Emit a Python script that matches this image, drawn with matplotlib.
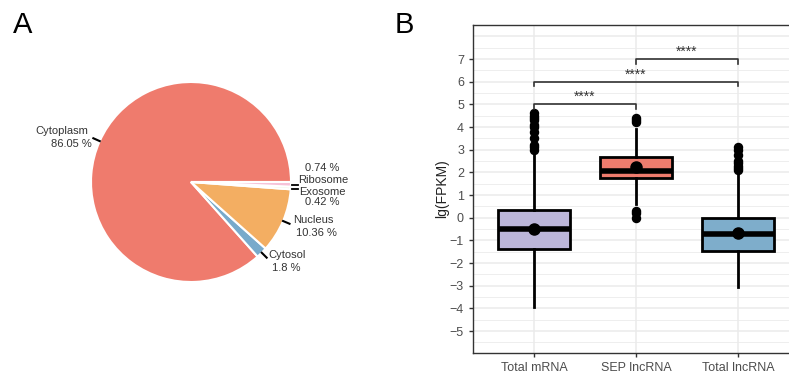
import numpy as np
import matplotlib
matplotlib.use("Agg")
import matplotlib.pyplot as plt

plt.rcParams['font.family'] = ['Liberation Sans', 'DejaVu Sans']

# ---- panel A data ----
pie_labels = ['Cytoplasm', 'Cytosol', 'Nucleus', 'Exosome', 'Ribosome']
pie_values = [86.05, 1.8, 10.36, 0.42, 0.74]
pie_colors = ['#EF7B6D', '#78AACB', '#F3AE62', '#DDEBC8', '#F6C2D8']

# label placement (data coords of the pie axes, radius 1)
label_pos = {
    'Cytoplasm': ((-1.29, 0.51), (-1.20, 0.38)),
    'Cytosol': ((0.96, -0.73), (0.95, -0.86)),
    'Nucleus': ((1.22, -0.38), (1.25, -0.51)),
    'Exosome': ((1.31, -0.10), (1.31, -0.20)),
    'Ribosome': ((1.32, 0.02), (1.31, 0.14)),
}

# ---- panel B data ----
groups = ['Total mRNA', 'SEP lncRNA', 'Total lncRNA']
box_colors = ['#BCB6D9', '#EF7C6E', '#7EADCB']
q1 = [-1.39, 1.74, -1.45]
med = [-0.48, 2.05, -0.72]
q3 = [0.36, 2.66, 0.0]
whislo = [-3.92, 0.62, -3.04]
whishi = [2.95, 3.92, 2.05]
means = [-0.52, 2.25, -0.68]
fliers = [
    [3.0, 3.1, 3.2, 3.5, 3.8, 4.0, 4.1, 4.3, 4.4, 4.5, 4.6],
    [4.2, 4.3, 4.4, 0.3, 0.2, 0.0],
    [2.1, 2.2, 2.3, 2.4, 2.5, 2.75, 3.0, 3.1],
]
# significance brackets: (from group, to group, height)
brackets = [(1, 2, 5.0), (1, 3, 6.0), (2, 3, 7.0)]

W, H = 789, 379
fig = plt.figure(figsize=(W / 100, H / 100), dpi=100)

# ---------------- panel A ----------------
cx, cy, r = 191, 182, 100
axA = fig.add_axes([(cx - r) / W, (H - cy - r) / H, 2 * r / W, 2 * r / H])
wedges, _ = axA.pie(pie_values, colors=pie_colors, startangle=0,
                    counterclock=True, radius=1,
                    wedgeprops=dict(edgecolor='white', linewidth=1.5))
axA.set_xlim(-1, 1)
axA.set_ylim(-1, 1)
axA.set_aspect('equal')
axA.axis('off')

txt_col = '#333333'
for w, name, val in zip(wedges, pie_labels, pie_values):
    mid = np.deg2rad((w.theta1 + w.theta2) / 2)
    if name in ('Exosome', 'Ribosome'):
        yy = -0.03 if name == 'Ribosome' else -0.07
        axA.plot([1.01, 1.07], [yy, yy], color='black', lw=1.3, clip_on=False)
    else:
        axA.plot([1.0 * np.cos(mid), 1.07 * np.cos(mid)],
                 [1.0 * np.sin(mid), 1.07 * np.sin(mid)],
                 color='black', lw=1.5, clip_on=False)
    (nx, ny), (vx, vy) = label_pos[name]
    axA.text(nx, ny, name, ha='center', va='center', fontsize=8,
             color=txt_col, clip_on=False)
    axA.text(vx, vy, f'{val:g} %', ha='center', va='center', fontsize=8,
             color=txt_col, clip_on=False)

fig.text(13 / W, 1 - 33 / H, 'A', fontsize=21, va='baseline', ha='left')
fig.text(395 / W, 1 - 33 / H, 'B', fontsize=21, va='baseline', ha='left')

# ---------------- panel B ----------------
left, right, top, bottom = 473, 799, 25, 353
axB = fig.add_axes([left / W, (H - bottom) / H, (right - left) / W, (bottom - top) / H])
axB.set_xlim(0.4, 3.6)
axB.set_ylim(-5.97, 8.5)

for y in np.arange(-5.5, 8.01, 0.5):
    major = float(y).is_integer()
    axB.axhline(y, color='#EBEBEB', lw=1.1 if major else 0.6, zorder=0)
for x in range(1, 4):
    axB.axvline(x, color='#EBEBEB', lw=1.1, zorder=0)

stats = []
for i in range(3):
    stats.append(dict(q1=q1[i], med=med[i], q3=q3[i], whislo=whislo[i],
                      whishi=whishi[i], mean=means[i], fliers=fliers[i]))
bp = axB.bxp(stats, positions=[1, 2, 3], widths=0.7, patch_artist=True,
             showmeans=True, showcaps=False,
             boxprops=dict(edgecolor='black', linewidth=2),
             whiskerprops=dict(color='black', linewidth=2),
             medianprops=dict(color='black', linewidth=4),
             meanprops=dict(marker='o', markerfacecolor='black',
                            markeredgecolor='black', markersize=8),
             flierprops=dict(marker='o', markerfacecolor='black',
                             markeredgecolor='black', markersize=5.8))
for patch, c in zip(bp['boxes'], box_colors):
    patch.set_facecolor(c)

for a, b, h in brackets:
    axB.plot([a, a, b, b], [h - 0.2, h, h, h - 0.2], color='#333333', lw=1.2)
    axB.text((a + b) / 2, h + 0.14, '****', ha='center', va='baseline',
             fontsize=10, color='#333333')

axB.set_xticks([1, 2, 3])
axB.set_xticklabels(groups)
axB.set_yticks(np.arange(-5, 8))
axB.tick_params(axis='both', colors='#333333', labelcolor='#4D4D4D',
                labelsize=9, length=3, width=1)
for s in axB.spines.values():
    s.set_color('#333333')
    s.set_linewidth(1)
axB.set_ylabel('lg(FPKM)', fontsize=10, color='#222222', labelpad=0.5)

fig.savefig('out.png', dpi=100)
